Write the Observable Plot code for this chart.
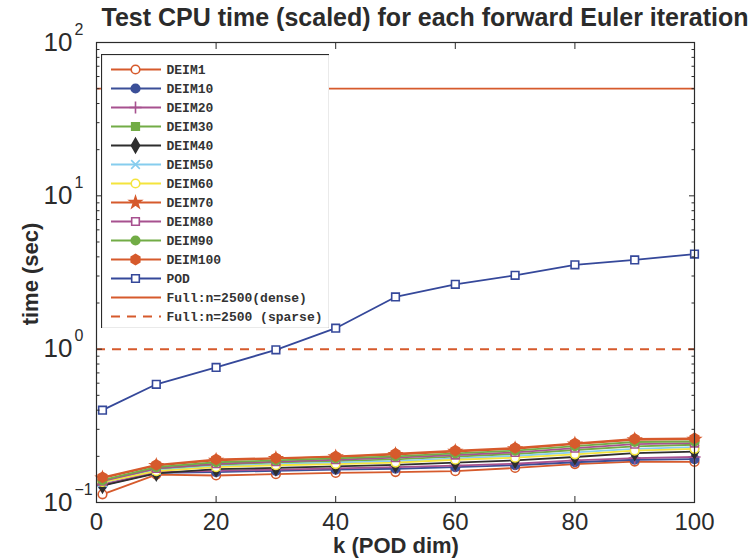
<!DOCTYPE html>
<html>
<head>
<meta charset="utf-8">
<script src="https://cdn.jsdelivr.net/npm/d3@7"></script>
<script src="https://cdn.jsdelivr.net/npm/@observablehq/plot@0.6"></script>
<style>
  body { margin: 0; background: #fff; }
  #chart { position: relative; width: 754px; height: 560px; font-family: "Liberation Sans", Arial, sans-serif; color: #2b2b2b; }
  #legend { position: absolute; left: 101px; top: 54px; }
</style>
</head>
<body>
<div id="chart"><div id="legend"></div></div>
<script>
// Reduced basis dimension k
const kValues = [1, 10, 20, 30, 40, 50, 60, 70, 80, 90, 100];

// CPU time per forward Euler step (scaled), one array per reduced model
const deim1   = [0.113, 0.152, 0.150, 0.153, 0.156, 0.158, 0.160, 0.168, 0.178, 0.185, 0.184];
const deim10  = [0.130, 0.156, 0.158, 0.161, 0.164, 0.166, 0.170, 0.175, 0.183, 0.190, 0.192];
const deim20  = [0.132, 0.158, 0.161, 0.164, 0.167, 0.170, 0.174, 0.179, 0.188, 0.195, 0.198];
const deim30  = [0.137, 0.165, 0.176, 0.182, 0.186, 0.191, 0.199, 0.207, 0.220, 0.232, 0.238];
const deim40  = [0.129, 0.155, 0.165, 0.168, 0.172, 0.176, 0.182, 0.188, 0.198, 0.210, 0.215];
const deim50  = [0.135, 0.162, 0.172, 0.178, 0.182, 0.186, 0.194, 0.201, 0.212, 0.224, 0.230];
const deim60  = [0.136, 0.160, 0.170, 0.175, 0.178, 0.182, 0.190, 0.196, 0.206, 0.218, 0.224];
const deim70  = [0.144, 0.174, 0.188, 0.193, 0.198, 0.205, 0.215, 0.224, 0.240, 0.256, 0.258];
const deim80  = [0.138, 0.167, 0.179, 0.185, 0.190, 0.196, 0.204, 0.212, 0.226, 0.240, 0.244];
const deim90  = [0.140, 0.170, 0.183, 0.188, 0.194, 0.200, 0.209, 0.218, 0.233, 0.248, 0.250];
const deim100 = [0.146, 0.176, 0.191, 0.195, 0.200, 0.208, 0.218, 0.227, 0.243, 0.260, 0.262];
const podTimes = [0.40, 0.59, 0.76, 0.99, 1.37, 2.19, 2.65, 3.03, 3.55, 3.82, 4.17];

// Full model reference times
const fullDenseTime = 50;
const fullSparseTime = 1;

const seriesNames   = ["DEIM1", "DEIM10", "DEIM20", "DEIM30", "DEIM40", "DEIM50", "DEIM60", "DEIM70", "DEIM80", "DEIM90", "DEIM100", "POD"];
const seriesValues  = [deim1, deim10, deim20, deim30, deim40, deim50, deim60, deim70, deim80, deim90, deim100, podTimes];
const seriesColors  = ["#d65a2c", "#3b4f98", "#a7518f", "#72ac46", "#2e2e2e", "#86cdee", "#f4e43c", "#d65a2c", "#a7518f", "#72ac46", "#d65a2c", "#35489a"];
const seriesSymbols = ["circle", "circle", "plus", "square", "diamond", "times", "circle", "star", "square", "circle", "hexagon", "square"];
const seriesFilled  = [false, true, false, true, true, false, false, true, false, true, true, false];
const fullNames = ["Full:n=2500(dense)", "Full:n=2500 (sparse)"];

const xTicks = [0, 20, 40, 60, 80, 100];
const yTicks = [0.1, 1, 10, 100];
const yTickExponents = ["\u22121", "0", "1", "2"];
const yMinorTicks = [2,3,4,5,6,7,8,9].flatMap(m => [0.1, 1, 10].map(d => +(m * d).toPrecision(2)));

const ink = "#2b2b2b";

const markerSize = sym => sym === "star" ? 3.6 : sym === "plus" || sym === "times" ? 4 : 4.3;

const series = seriesNames.map((name, i) => ({
  name,
  color: seriesColors[i],
  symbol: seriesSymbols[i],
  filled: seriesFilled[i],
  rows: kValues.map((k, j) => ({k, t: seriesValues[i][j]}))
}));

const marks = [
  Plot.ruleY([fullDenseTime], {stroke: seriesColors[0], strokeWidth: 1.8}),
  Plot.ruleY([fullSparseTime], {stroke: seriesColors[0], strokeWidth: 2, strokeDasharray: "9,7"})
];
for (const s of series) {
  marks.push(Plot.line(s.rows, {x: "k", y: "t", stroke: s.color, strokeWidth: 1.8}));
  marks.push(Plot.dot(s.rows, {
    x: "k", y: "t", symbol: s.symbol, r: markerSize(s.symbol),
    stroke: s.color, strokeWidth: 1.6, fill: s.filled ? s.color : "white"
  }));
}

// Inward ticks on all four sides, then tick labels
marks.push(
  Plot.axisX(xTicks, {anchor: "bottom", tickSize: -6, tickFormat: () => "", stroke: ink}),
  Plot.axisX(xTicks, {anchor: "top", tickSize: -6, tickFormat: () => "", stroke: ink, label: null}),
  Plot.axisY(yTicks, {anchor: "left", tickSize: -6, tickFormat: () => "", stroke: ink, label: null}),
  Plot.axisY(yTicks, {anchor: "right", tickSize: -6, tickFormat: () => "", stroke: ink, label: null}),
  Plot.axisY(yMinorTicks, {anchor: "left", tickSize: -3.5, tickFormat: () => "", stroke: ink, label: null}),
  Plot.axisY(yMinorTicks, {anchor: "right", tickSize: -3.5, tickFormat: () => "", stroke: ink, label: null}),
  Plot.axisX(xTicks, {anchor: "bottom", tickSize: 0, tickPadding: 10, fontSize: 24, fill: ink, label: null}),
  Plot.text(yTicks, {y: d => d, frameAnchor: "left", dx: -24, textAnchor: "end", text: () => "10", fontSize: 26, fill: ink}),
  Plot.text(yTicks, {y: d => d, frameAnchor: "left", dx: -22, dy: -13, textAnchor: "start", text: (d, i) => yTickExponents[i], fontSize: 16, fill: ink}),
  Plot.frame({stroke: ink, strokeWidth: 1.2})
);

const chart = Plot.plot({
  width: 754,
  height: 560,
  marginLeft: 96,
  marginRight: 60,
  marginTop: 42,
  marginBottom: 58,
  style: {background: "white", fontFamily: "'Liberation Sans', Arial, sans-serif", color: ink},
  x: {domain: [0, 100], label: null, axis: null},
  y: {type: "log", domain: [0.1, 100], label: null, axis: null},
  marks
});

// Title and axis labels
const svg = d3.select(chart);
svg.append("text")
  .attr("x", 425).attr("y", 26)
  .attr("text-anchor", "middle")
  .attr("font-size", 25).attr("font-weight", "bold").attr("fill", ink)
  .text("Test CPU time (scaled) for each forward Euler iteration");
svg.append("text")
  .attr("x", 396).attr("y", 553)
  .attr("text-anchor", "middle")
  .attr("font-size", 22).attr("font-weight", "bold").attr("fill", ink)
  .text("k (POD dim)");
svg.append("text")
  .attr("transform", "translate(38,274) rotate(-90)")
  .attr("text-anchor", "middle")
  .attr("font-size", 22).attr("font-weight", "bold").attr("fill", ink)
  .text("time (sec)");

document.getElementById("chart").prepend(chart);

// Legend box
const legendEntries = [
  ...series.map(s => ({label: s.name, color: s.color, symbol: s.symbol, filled: s.filled, dash: null})),
  {label: fullNames[0], color: seriesColors[0], symbol: null, filled: false, dash: null},
  {label: fullNames[1], color: seriesColors[0], symbol: null, filled: false, dash: "9,7"}
];
const legendLabels = legendEntries.map(d => d.label);

const legend = Plot.plot({
  width: 228,
  height: 274,
  margin: 0,
  style: {background: "white", fontFamily: "'Liberation Mono', 'Courier New', monospace"},
  x: {domain: [0, 1], axis: null},
  y: {type: "point", domain: legendLabels, range: [12, 264], padding: 0, axis: null},
  marks: [
    Plot.ruleY(legendEntries.filter(d => !d.dash), {y: "label", stroke: "color", insetLeft: 10, insetRight: 168, strokeWidth: 1.8}),
    Plot.ruleY(legendEntries.filter(d => d.dash), {y: "label", stroke: "color", insetLeft: 10, insetRight: 168, strokeWidth: 2, strokeDasharray: "9,7"}),
    ...legendEntries.filter(d => d.symbol).map(d =>
      Plot.dot([d], {y: "label", frameAnchor: "left", dx: 34, symbol: d.symbol, r: markerSize(d.symbol), stroke: d.color, strokeWidth: 1.6, fill: d.filled ? d.color : "white"})
    ),
    Plot.text(legendEntries, {y: "label", text: "label", frameAnchor: "left", dx: 65, textAnchor: "start", fontSize: 13, fontWeight: "bold", fill: "#333"}),
    Plot.frame({stroke: ink, strokeWidth: 1.2})
  ]
});
document.getElementById("legend").append(legend);
</script>
</body>
</html>
